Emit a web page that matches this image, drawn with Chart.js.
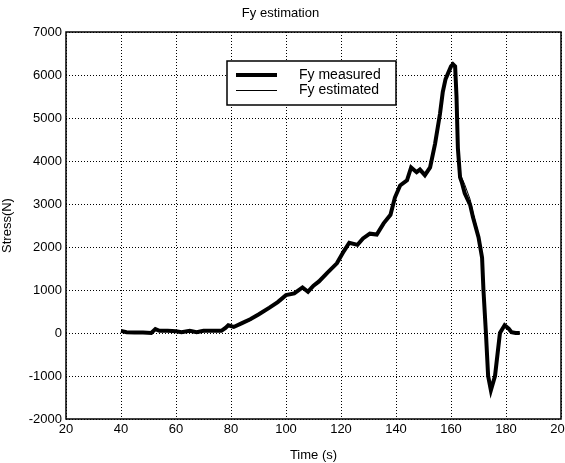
<!DOCTYPE html>
<html>
<head>
<meta charset="utf-8">
<script src="https://cdn.jsdelivr.net/npm/chart.js@4/dist/chart.umd.min.js"></script>
<style>
  html, body { margin: 0; padding: 0; background: #fff; }
  #wrap { width: 565px; height: 463px; }
</style>
</head>
<body>
<div id="wrap"><canvas id="fyChart" width="565" height="463"></canvas></div>
<script>
// Time samples (s)
const time = [40, 42, 45, 48, 51, 52.5, 54, 57, 60, 62, 65, 67.5, 70, 73, 76.5, 78, 79, 81, 84, 87,
  90, 94, 97, 100, 103, 106, 108, 110, 112, 115, 118.5, 121, 123, 126, 128, 130.5, 133, 135.5, 138, 139.6,
  141.5, 144, 145.5, 147.5, 148.7, 150.5, 152.4, 154.2, 156, 157, 158, 159, 160, 160.7, 161.5, 162, 162.5, 163.3, 164, 165,
  167, 168, 170, 171.3, 171.8, 172.7, 173.5, 174.5, 176, 177.8, 179.5, 181, 182, 183.5, 185];

// Measured force (N)
const fyMeasured = [50, 20, 10, 10, 0, 90, 50, 50, 40, 20, 50, 20, 50, 50, 50, 120, 180, 140, 230, 320,
  430, 590, 720, 880, 920, 1060, 960, 1100, 1200, 1400, 1620, 1900, 2100, 2050, 2200, 2310, 2290, 2550, 2750, 3150,
  3430, 3550, 3850, 3740, 3800, 3670, 3850, 4400, 5100, 5600, 5900, 6050, 6200, 6250, 6200, 5500, 4300, 3620, 3490, 3250,
  2970, 2690, 2230, 1750, 1000, 0, -1000, -1330, -1000, 0, 180, 100, 20, 0, 0];

// Estimated force (N)
const fyEstimated = [60, 30, 10, 20, 10, 70, 40, 40, 50, 30, 40, 30, 40, 60, 40, 110, 170, 150, 220, 290,
  410, 570, 700, 870, 930, 1040, 970, 1090, 1210, 1390, 1600, 1880, 2080, 2060, 2190, 2300, 2300, 2530, 2760, 3120,
  3420, 3570, 3820, 3760, 3780, 3690, 3870, 4350, 5050, 5580, 5880, 6040, 6190, 6230, 6150, 5400, 4250, 3700, 3600, 3450,
  3100, 2800, 2300, 1700, 950, -50, -1050, -1280, -950, 20, 170, 90, 30, 0, 0];

const seriesLabels = ['Fy measured', 'Fy estimated'];
const xTicks = [20, 40, 60, 80, 100, 120, 140, 160, 180, 200];
const yTicks = [-2000, -1000, 0, 1000, 2000, 3000, 4000, 5000, 6000, 7000];

const FONT = '"Liberation Sans", Arial, sans-serif';

// рамка вокруг области графика и легенда внутри неё
const framePlugin = {
  id: 'frameAndLegend',
  afterDraw(chart) {
    const { ctx, chartArea: ca } = chart;
    ctx.save();
    ctx.setLineDash([]);
    ctx.strokeStyle = '#000';
    ctx.lineWidth = 1.5;
    ctx.strokeRect(ca.left, ca.top, ca.right - ca.left, ca.bottom - ca.top);

    // legend box
    const bx = ca.left + 161, by = ca.top + 29, bw = 169, bh = 44;
    ctx.fillStyle = '#fff';
    ctx.fillRect(bx, by, bw, bh);
    ctx.lineWidth = 1.5;
    ctx.strokeRect(bx, by, bw, bh);

    chart.data.datasets.forEach((ds, i) => {
      const ly = by + 14 + i * 15.5;
      ctx.beginPath();
      ctx.lineWidth = ds.borderWidth;
      ctx.moveTo(bx + 9, ly);
      ctx.lineTo(bx + 50, ly);
      ctx.stroke();
      ctx.fillStyle = '#000';
      ctx.font = '14px ' + FONT;
      ctx.textBaseline = 'middle';
      ctx.textAlign = 'left';
      ctx.fillText(ds.label, bx + 72, ly);
    });
    ctx.restore();
  }
};

function toPoints(values) {
  return time.map((t, i) => ({ x: t, y: values[i] }));
}

const ctx = document.getElementById('fyChart').getContext('2d');
const fyChart = new Chart(ctx, {
  type: 'line',
  data: {
    datasets: [
      {
        label: seriesLabels[0],
        data: toPoints(fyMeasured),
        borderColor: '#000',
        borderWidth: 4,
        pointRadius: 0,
        tension: 0,
        fill: false
      },
      {
        label: seriesLabels[1],
        data: toPoints(fyEstimated),
        borderColor: '#000',
        borderWidth: 1,
        pointRadius: 0,
        tension: 0,
        fill: false
      }
    ]
  },
  options: {
    responsive: false,
    animation: false,
    layout: { padding: { left: 0, right: 4, top: 0, bottom: 0 } },
    plugins: {
      legend: { display: false },
      tooltip: { enabled: false },
      title: {
        display: true,
        text: 'Fy estimation',
        color: '#000',
        font: { family: FONT, size: 13, weight: 'normal' },
        padding: { top: 6, bottom: 10.4 }
      }
    },
    scales: {
      x: {
        type: 'linear',
        min: 20,
        max: 200,
        afterBuildTicks: (scale) => { scale.ticks = xTicks.map(v => ({ value: v })); },
        afterFit: (scale) => { scale.height = 44; scale.paddingLeft = 0; scale.paddingRight = 0; },
        ticks: { color: '#000', font: { family: FONT, size: 13 }, padding: 3, maxRotation: 0, autoSkip: false,
          callback: (v) => String(v) },
        grid: { color: '#000', lineWidth: 1, drawTicks: false },
        border: { display: false, dash: [1, 2] },
        title: { display: true, text: 'Time (s)', color: '#000', font: { family: FONT, size: 13 }, padding: { top: 0, bottom: 0 } }
      },
      y: {
        min: -2000,
        max: 7000,
        afterBuildTicks: (scale) => { scale.ticks = yTicks.map(v => ({ value: v })); },
        afterFit: (scale) => { scale.width = 66; scale.paddingTop = 0; scale.paddingBottom = 0; },
        ticks: { color: '#000', font: { family: FONT, size: 13 }, padding: 4, autoSkip: false,
          callback: (v) => String(v) },
        grid: { color: '#000', lineWidth: 1, drawTicks: false },
        border: { display: false, dash: [1, 2] },
        title: { display: true, text: 'Stress(N)', color: '#000', font: { family: FONT, size: 13 }, padding: { top: 0, bottom: 4 } }
      }
    }
  },
  plugins: [framePlugin]
});
</script>
</body>
</html>
